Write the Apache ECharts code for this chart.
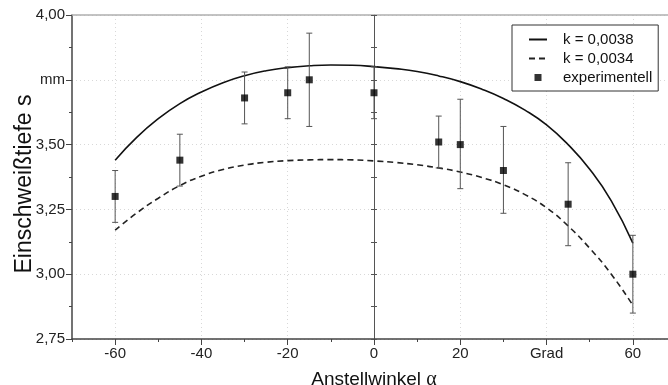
<!DOCTYPE html>
<html>
<head>
<meta charset="utf-8">
<script src="https://cdn.jsdelivr.net/npm/echarts@6/dist/echarts.min.js"></script>
<style>
  html, body { margin: 0; padding: 0; background: #fff; }
  #chart { width: 668px; height: 385px; }
</style>
</head>
<body>
<div id="chart"></div>
<script>
// Model curves for two values of k, sampled every 5 degrees
const curveAngles = [-60, -55, -50, -45, -40, -35, -30, -25, -20, -15, -10, -5, 0,
                     5, 10, 15, 20, 25, 30, 35, 40, 45, 50, 55, 60];
const curveK0038 = [3.44, 3.528, 3.60, 3.658, 3.703, 3.739, 3.766, 3.785, 3.797, 3.804, 3.807, 3.806, 3.801,
                    3.793, 3.782, 3.765, 3.743, 3.714, 3.678, 3.633, 3.576, 3.50, 3.405, 3.283, 3.12];
const curveK0034 = [3.17, 3.236, 3.293, 3.342, 3.378, 3.404, 3.421, 3.432, 3.438, 3.441, 3.442, 3.441, 3.437,
                    3.431, 3.422, 3.41, 3.394, 3.373, 3.345, 3.307, 3.256, 3.186, 3.10, 3.00, 2.88];

// Measured penetration depth with min / max of the spread
const expAngles = [-60, -45, -30, -20, -15, 0, 15, 20, 30, 45, 60];
const expDepth  = [3.30, 3.44, 3.68, 3.70, 3.75, 3.70, 3.51, 3.50, 3.40, 3.27, 3.00];
const expLow    = [3.20, 3.34, 3.58, 3.60, 3.57, 3.60, 3.41, 3.33, 3.235, 3.11, 2.85];
const expHigh   = [3.40, 3.54, 3.78, 3.80, 3.93, 3.80, 3.61, 3.675, 3.57, 3.43, 3.15];

// Axis ticks and their labels
const xTickValues = [-60, -40, -20, 0, 20, 40, 60];
const xTickLabels = ['-60', '-40', '-20', '0', '20', 'Grad', '60'];
const yTickValues = [2.75, 3.00, 3.25, 3.50, 3.75, 4.00];
const yTickLabels = ['2,75', '3,00', '3,25', '3,50', 'mm', '4,00'];

const FONT = '"Liberation Sans", Arial, sans-serif';
const AXIS_COLOR = '#444';
const GRID_LINE = { show: true, lineStyle: { color: '#d8d8d8', type: [1, 3], width: 1 } };

const pairs = (xs, ys) => xs.map((x, i) => [x, ys[i]]);

const chart = echarts.init(document.getElementById('chart'), null, { renderer: 'canvas' });

chart.setOption({
  animation: false,
  backgroundColor: '#fff',
  textStyle: { fontFamily: FONT },
  grid: { left: 72, right: -8, top: 15, bottom: 46, containLabel: false, outerBoundsMode: 'none' },
  legend: {
    orient: 'vertical',
    left: 512, top: 25,
    padding: [7, 6, 6, 16],
    itemWidth: 18, itemHeight: 14, itemGap: 4,
    backgroundColor: '#fff',
    borderColor: '#333', borderWidth: 1, borderRadius: 0,
    textStyle: { fontFamily: FONT, fontSize: 15, color: '#111', padding: [0, 0, 0, 11] },
    data: [
      { name: 'k = 0,0038', itemStyle: { opacity: 0 } },
      { name: 'k = 0,0034', itemStyle: { opacity: 0 } },
      { name: 'experimentell', icon: 'path://M0,0M14,14M3.5,3.5h7v7h-7z' }
    ]
  },
  xAxis: [
    {
      type: 'value', min: -70, max: 70, interval: 10, position: 'bottom',
      name: 'Anstellwinkel {a|α}', nameLocation: 'middle', nameGap: 31,
      nameTextStyle: { fontFamily: FONT, fontSize: 19, color: '#111',
        rich: { a: { fontFamily: '"Liberation Serif", serif', fontSize: 20, color: '#111' } } },
      axisLine: { show: true, onZero: false, lineStyle: { color: AXIS_COLOR, width: 1.5 } },
      axisTick: { show: true, customValues: xTickValues, length: 6, lineStyle: { color: AXIS_COLOR, width: 1 } },
      axisLabel: {
        customValues: xTickValues, margin: 7, fontSize: 15, color: '#222', fontFamily: FONT,
        formatter: v => xTickLabels[xTickValues.indexOf(Math.round(v))] ?? ''
      },
      splitLine: GRID_LINE
    },
    {
      // minor ticks every 10 degrees
      type: 'value', min: -70, max: 70, interval: 10, position: 'bottom',
      axisLine: { show: false, onZero: false },
      axisTick: { show: true, length: 3, lineStyle: { color: AXIS_COLOR, width: 1 } },
      axisLabel: { show: false },
      splitLine: { show: false }
    },
    {
      // upper frame
      type: 'value', min: -70, max: 70, position: 'top',
      axisLine: { show: true, onZero: false, lineStyle: { color: '#b0b0b0', width: 1.5 } },
      axisTick: { show: false }, axisLabel: { show: false }, splitLine: { show: false }
    }
  ],
  yAxis: [
    {
      type: 'value', min: 2.75, max: 4.0, interval: 0.25, position: 'left',
      name: 'Einschweißtiefe s', nameLocation: 'middle', nameGap: 36, nameRotate: 90,
      nameMoveOverlap: false,
      nameTextStyle: { fontFamily: FONT, fontSize: 23, color: '#111', padding: [0, 14, 0, 0] },
      axisLine: { show: true, onZero: false, lineStyle: { color: AXIS_COLOR, width: 1.5 } },
      axisTick: { show: true, length: 6, lineStyle: { color: AXIS_COLOR, width: 1 } },
      minorTick: { show: true, splitNumber: 2, length: 3, lineStyle: { color: AXIS_COLOR, width: 1 } },
      axisLabel: {
        margin: 7, fontSize: 15, color: '#222', fontFamily: FONT,
        formatter: v => yTickLabels[Math.round((v - yTickValues[0]) / 0.25)] ?? ''
      },
      splitLine: GRID_LINE
    },
    {
      // vertical line at 0 degrees, ticks on the left side
      type: 'value', min: 2.75, max: 4.0, interval: 0.25, position: 'left',
      axisLine: { show: true, onZero: true, onZeroAxisIndex: 0, lineStyle: { color: '#555', width: 1 } },
      axisTick: { show: true, inside: false, length: 3, lineStyle: { color: '#555', width: 1 } },
      minorTick: { show: true, splitNumber: 2, length: 3, lineStyle: { color: '#555', width: 1 } },
      axisLabel: { show: false }, splitLine: { show: false }
    },
    {
      // same line, ticks on the right side
      type: 'value', min: 2.75, max: 4.0, interval: 0.25, position: 'left',
      axisLine: { show: false, onZero: true, onZeroAxisIndex: 0 },
      axisTick: { show: true, inside: true, length: 3, lineStyle: { color: '#555', width: 1 } },
      minorTick: { show: true, splitNumber: 2, length: 3, lineStyle: { color: '#555', width: 1 } },
      axisLabel: { show: false }, splitLine: { show: false }
    }
  ],
  series: [
    {
      name: 'k = 0,0038', type: 'line', xAxisIndex: 0, yAxisIndex: 0,
      data: pairs(curveAngles, curveK0038), smooth: true, symbol: 'none',
      lineStyle: { color: '#111', width: 1.6, type: 'solid' },
      itemStyle: { color: '#111' }, z: 3
    },
    {
      name: 'k = 0,0034', type: 'line', xAxisIndex: 0, yAxisIndex: 0,
      data: pairs(curveAngles, curveK0034), smooth: true, symbol: 'none',
      lineStyle: { color: '#222', width: 1.6, type: [6, 4] },
      itemStyle: { color: '#222' }, z: 3
    },
    {
      type: 'custom', xAxisIndex: 0, yAxisIndex: 0,
      data: expAngles.map((x, i) => [x, expLow[i], expHigh[i]]),
      renderItem: (params, api) => {
        const lo = api.coord([api.value(0), api.value(1)]);
        const hi = api.coord([api.value(0), api.value(2)]);
        const cap = 3;
        const style = { stroke: '#555', lineWidth: 1 };
        return {
          type: 'group',
          children: [
            { type: 'line', shape: { x1: lo[0], y1: lo[1], x2: hi[0], y2: hi[1] }, style },
            { type: 'line', shape: { x1: lo[0] - cap, y1: lo[1], x2: lo[0] + cap, y2: lo[1] }, style },
            { type: 'line', shape: { x1: hi[0] - cap, y1: hi[1], x2: hi[0] + cap, y2: hi[1] }, style }
          ]
        };
      },
      z: 4, silent: true
    },
    {
      name: 'experimentell', type: 'scatter', xAxisIndex: 0, yAxisIndex: 0,
      data: pairs(expAngles, expDepth),
      symbol: 'rect', symbolSize: 7,
      itemStyle: { color: '#000' }, z: 5
    }
  ]
});
</script>
</body>
</html>
